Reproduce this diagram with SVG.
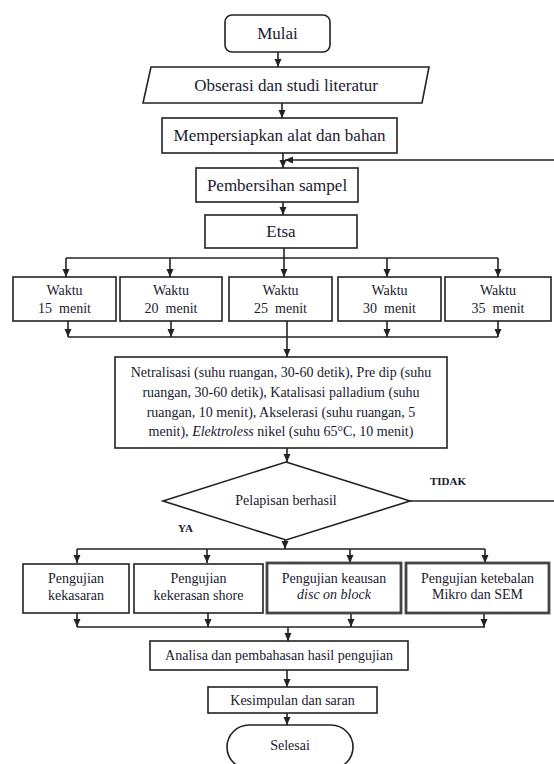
<svg xmlns="http://www.w3.org/2000/svg" width="554" height="764" viewBox="0 0 554 764">
<style>
.box{fill:#fff;stroke:#222;stroke-width:1.6}
.dbl{fill:#fff;stroke:#444;stroke-width:2.8}
.t17{font-family:"Liberation Serif","Times New Roman",serif;font-size:17px;fill:#1a1a2e;text-anchor:middle}
.t14{font-family:"Liberation Serif","Times New Roman",serif;font-size:14px;fill:#1a1a2e;text-anchor:middle}
.lbl{font-family:"Liberation Serif","Times New Roman",serif;font-size:11px;font-weight:bold;fill:#1a1a2e}
.ln{fill:none;stroke:#222;stroke-width:1.6}
.arr{fill:none;stroke:#222;stroke-width:1.6;marker-end:url(#ah)}
</style>
<defs>
<marker id="ah" markerUnits="userSpaceOnUse" markerWidth="9" markerHeight="8" refX="8" refY="3.5" orient="auto">
<path d="M0,0 L8,3.5 L0,7 z" fill="#222"/>
</marker>
</defs>
<rect width="554" height="764" fill="#fff"/>
<g id="connectors">
<path class="arr" d="M278,52 V67"/>
<path class="arr" d="M282,103 V118"/>
<path class="arr" d="M283,153 V168"/>
<path class="arr" d="M556,160 H285"/>
<path class="arr" d="M283,202 V215"/>
<path class="ln" d="M284,248 V258"/>
<path class="ln" d="M66,258 H498"/>
<path class="arr" d="M66,258 V277"/>
<path class="arr" d="M170,258 V277"/>
<path class="arr" d="M284,258 V277"/>
<path class="arr" d="M387,258 V277"/>
<path class="arr" d="M498,258 V277"/>
<path class="arr" d="M68,321 V337"/>
<path class="arr" d="M171,321 V337"/>
<path class="arr" d="M387,321 V337"/>
<path class="arr" d="M498,321 V337"/>
<path class="ln" d="M68,337 H498"/>
<path class="arr" d="M287,321 V357"/>
<path class="arr" d="M287,448 V462"/>
<path class="ln" d="M410,501 H556"/>
<path class="arr" d="M285,540 V549"/>
<path class="ln" d="M77,549 H485"/>
<path class="arr" d="M77,549 V563"/>
<path class="arr" d="M207,549 V563"/>
<path class="arr" d="M350,549 V563"/>
<path class="arr" d="M485,549 V563"/>
<path class="arr" d="M77,613 V627"/>
<path class="arr" d="M208,613 V627"/>
<path class="arr" d="M351,613 V627"/>
<path class="arr" d="M484,613 V627"/>
<path class="ln" d="M77,627 H485"/>
<path class="arr" d="M288,627 V641"/>
<path class="arr" d="M287,670 V687"/>
<path class="arr" d="M287,713 V725"/>
</g>
<g id="mulai">
<rect class="box" x="225" y="15" width="105" height="37" rx="7"/>
<text class="t17" x="277.5" y="39">Mulai</text>
</g>
<g id="obserasi">
<polygon class="box" points="151,67 429,67 422,103 143,103"/>
<text class="t17" x="286" y="91">Obserasi dan studi literatur</text>
</g>
<g id="mempersiapkan">
<rect class="box" x="162" y="118" width="235" height="35"/>
<text class="t17" x="279.5" y="141">Mempersiapkan alat dan bahan</text>
</g>
<g id="pembersihan">
<rect class="box" x="196" y="168" width="162" height="34"/>
<text class="t17" x="277" y="191">Pembersihan sampel</text>
</g>
<g id="etsa">
<rect class="box" x="205" y="215" width="152" height="33"/>
<text class="t17" x="281" y="237">Etsa</text>
</g>
<g id="waktu15">
<rect class="box" x="13" y="277" width="103" height="44"/>
<text class="t14" x="64.5" y="295">Waktu</text>
<text class="t14" x="64.5" y="313" xml:space="preserve">15  menit</text>
</g>
<g id="waktu20">
<rect class="box" x="120" y="277" width="102" height="44"/>
<text class="t14" x="171" y="295">Waktu</text>
<text class="t14" x="171" y="313" xml:space="preserve">20  menit</text>
</g>
<g id="waktu25">
<rect class="box" x="229" y="277" width="103" height="44"/>
<text class="t14" x="280.5" y="295">Waktu</text>
<text class="t14" x="280.5" y="313" xml:space="preserve">25  menit</text>
</g>
<g id="waktu30">
<rect class="box" x="338" y="277" width="103" height="44"/>
<text class="t14" x="389.5" y="295">Waktu</text>
<text class="t14" x="389.5" y="313" xml:space="preserve">30  menit</text>
</g>
<g id="waktu35">
<rect class="box" x="445" y="277" width="106" height="44"/>
<text class="t14" x="498" y="295">Waktu</text>
<text class="t14" x="498" y="313" xml:space="preserve">35  menit</text>
</g>
<g id="proses">
<rect class="box" x="115" y="357" width="332" height="91"/>
<text class="t14" x="281" y="377">Netralisasi (suhu ruangan, 30-60 detik), Pre dip (suhu</text>
<text class="t14" x="281" y="397">ruangan, 30-60 detik), Katalisasi palladium (suhu</text>
<text class="t14" x="281" y="417">ruangan, 10 menit), Akselerasi (suhu ruangan, 5</text>
<text class="t14" x="281" y="436">menit), <tspan font-style="italic">Elektroless</tspan> nikel (suhu 65°C, 10 menit)</text>
</g>
<g id="keputusan">
<polygon class="box" points="286,462 410,501 286,540 163,501"/>
<text class="t14" x="286" y="505">Pelapisan berhasil</text>
<text class="lbl" x="430" y="485">TIDAK</text>
<text class="lbl" x="178" y="532">YA</text>
</g>
<g id="kekasaran">
<rect class="box" x="23" y="564" width="106" height="49"/>
<text class="t14" x="76" y="583">Pengujian</text>
<text class="t14" x="76" y="600">kekasaran</text>
</g>
<g id="kekerasan">
<rect class="box" x="134" y="564" width="129" height="49"/>
<text class="t14" x="198.5" y="583">Pengujian</text>
<text class="t14" x="198.5" y="600">kekerasan shore</text>
</g>
<g id="keausan">
<rect class="dbl" x="267" y="563" width="134" height="50"/>
<text class="t14" x="334" y="583">Pengujian keausan</text>
<text class="t14" x="334" y="599" font-style="italic">disc on block</text>
</g>
<g id="ketebalan">
<rect class="dbl" x="406" y="563" width="143" height="50"/>
<text class="t14" x="477.5" y="583">Pengujian ketebalan</text>
<text class="t14" x="477.5" y="599">Mikro dan SEM</text>
</g>
<g id="analisa">
<rect class="box" x="150" y="641" width="258" height="29"/>
<text class="t14" x="279" y="660">Analisa dan pembahasan hasil pengujian</text>
</g>
<g id="kesimpulan">
<rect class="box" x="208" y="687" width="169" height="26"/>
<text class="t14" x="292.5" y="705">Kesimpulan dan saran</text>
</g>
<g id="selesai">
<rect class="box" x="227" y="725" width="126" height="44" rx="22"/>
<text class="t14" x="290" y="750">Selesai</text>
</g>
</svg>
